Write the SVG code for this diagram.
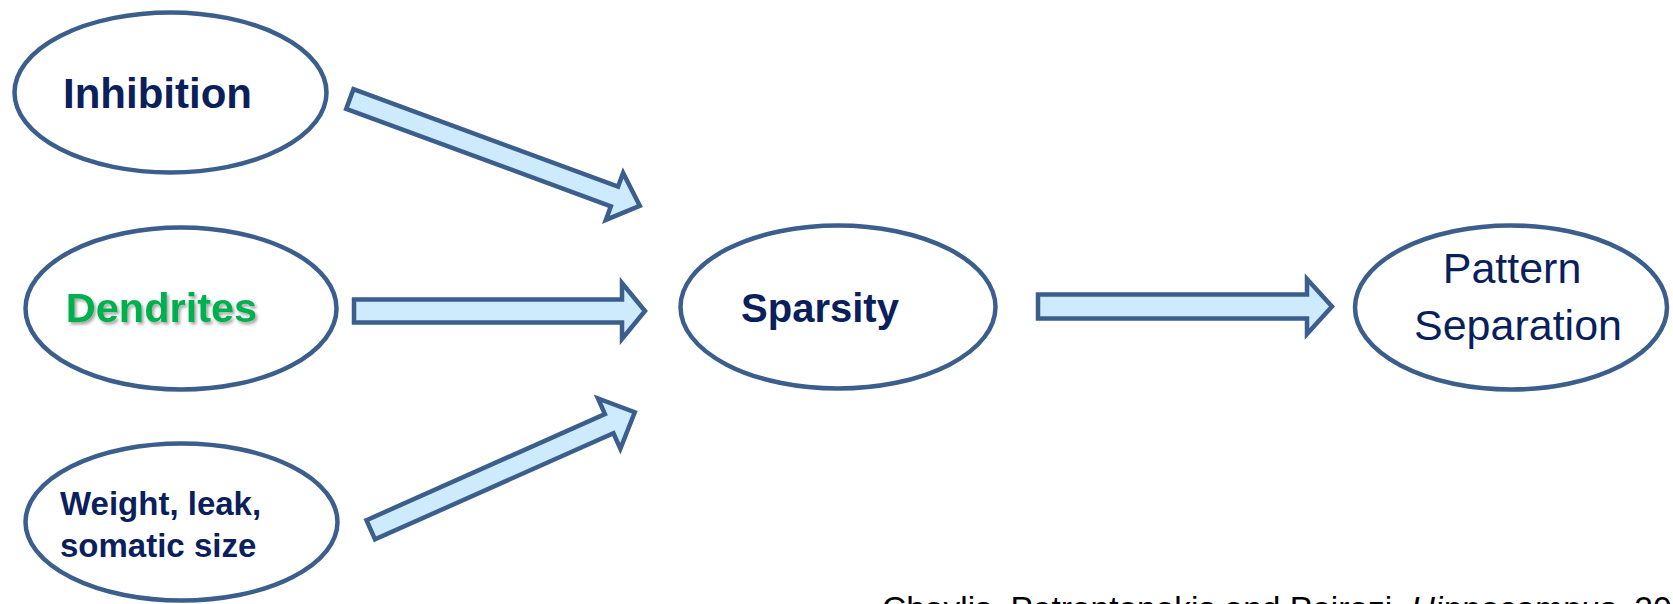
<svg xmlns="http://www.w3.org/2000/svg" width="1673" height="604" viewBox="0 0 1673 604">
  <defs>
    <filter id="shadow" x="-10%" y="-20%" width="130%" height="160%">
      <feDropShadow dx="2" dy="2.5" stdDeviation="1.5" flood-color="#000000" flood-opacity="0.35"/>
    </filter>
  </defs>
  <style>
    .node { fill: #ffffff; stroke: #3b5e8c; stroke-width: 4.5; }
    .arrow { fill: #cdebfd; stroke: #3b5e8c; stroke-width: 4.5; stroke-linejoin: miter; stroke-miterlimit: 10; }
    .lbl { font-family: "Liberation Sans", Arial, sans-serif; fill: #0b1f5c; }
    .b { font-weight: bold; }
    .cite { font-family: "Liberation Sans", Arial, sans-serif; fill: #000000; font-size: 33.5px; }
  </style>

  <g id="connectors">
    <path class="arrow" transform="translate(347,98) rotate(20.2)" d="M3,-10.5 H285 V-25 L312,0 L285,25 V10.5 H3 Z"/>
    <path class="arrow" d="M354,299.5 H622 V283 L645,311 L622,339 V322.5 H354 Z"/>
    <path class="arrow" transform="translate(368,531) rotate(-24)" d="M3,-10.5 H264 V-27.5 L292,0 L264,27.5 V10.5 H3 Z"/>
    <path class="arrow" d="M1038,294.5 H1307 V279 L1332,306.5 L1307,334 V318.5 H1038 Z"/>
  </g>

  <g id="inhibition">
    <ellipse class="node" cx="170.5" cy="92.5" rx="156" ry="80"/>
    <text class="lbl b" x="157.5" y="108" font-size="42" text-anchor="middle">Inhibition</text>
  </g>

  <g id="dendrites">
    <ellipse class="node" cx="181" cy="308.5" rx="155.5" ry="81"/>
    <text class="b" x="161.5" y="322" font-size="41.5" text-anchor="middle" font-family="'Liberation Sans', Arial, sans-serif" fill="#00b050" filter="url(#shadow)">Dendrites</text>
  </g>

  <g id="weight">
    <ellipse class="node" cx="181.5" cy="522" rx="156" ry="78.5"/>
    <text class="lbl b" font-size="33">
      <tspan x="60" y="515">Weight, leak,</tspan>
      <tspan x="60" y="557">somatic size</tspan>
    </text>
  </g>

  <g id="sparsity">
    <ellipse class="node" cx="838" cy="307" rx="157.5" ry="81.5"/>
    <text class="lbl b" x="820" y="322" font-size="40" text-anchor="middle">Sparsity</text>
  </g>

  <g id="pattern-separation">
    <ellipse class="node" cx="1511" cy="307.5" rx="156" ry="82"/>
    <text class="lbl" font-size="43" text-anchor="middle">
      <tspan x="1518" y="283">Pattern</tspan>
      <tspan x="1518" y="340">Separation</tspan>
    </text>
  </g>

  <text class="cite" x="882" y="620">Chavlis, Petrantonakis and Poirazi, <tspan font-style="italic">Hippocampus</tspan>, 2017</text>
</svg>
